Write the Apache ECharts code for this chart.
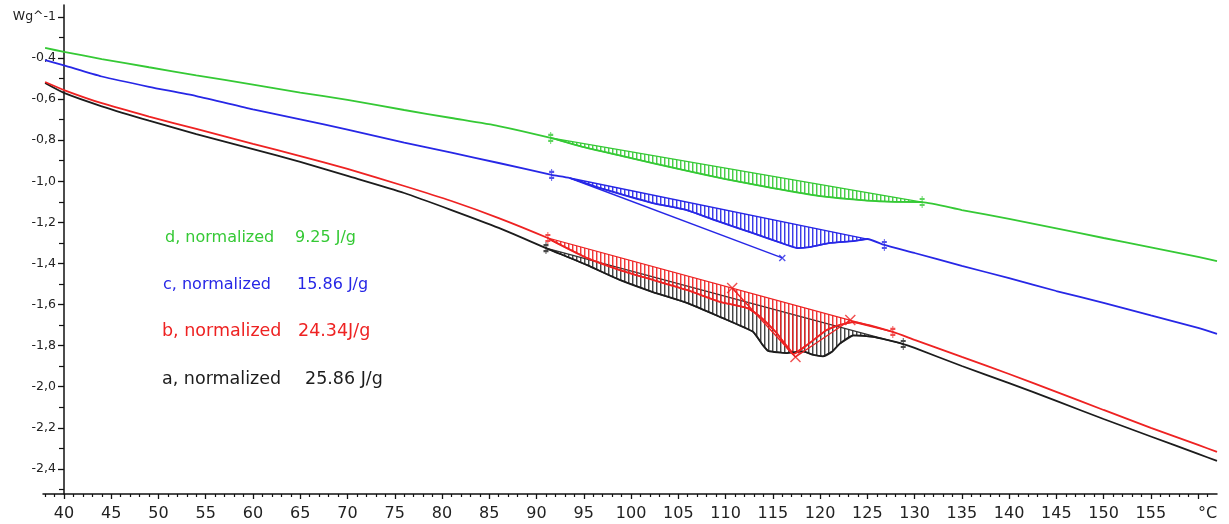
<!DOCTYPE html>
<html><head><meta charset="utf-8">
<script src="https://cdn.jsdelivr.net/npm/echarts@6/dist/echarts.min.js"></script>
<style>html,body{margin:0;padding:0;background:#fff}#c{width:1229px;height:524px}</style>
</head><body><div id="c"></div>
<script>
// ---- axis ticks ----
const xMajorTicks = [40,45,50,55,60,65,70,75,80,85,90,95,100,105,110,115,120,125,130,135,140,145,150,155,160];
const xLabelTicks = [40,45,50,55,60,65,70,75,80,85,90,95,100,105,110,115,120,125,130,135,140,145,150,155,161];
const xMinorTicks = [38,39,41,42,43,44,46,47,48,49,51,52,53,54,56,57,58,59,61,62,63,64,66,67,68,69,71,72,73,74,76,77,78,79,81,82,83,84,86,87,88,89,91,92,93,94,96,97,98,99,101,102,103,104,106,107,108,109,111,112,113,114,116,117,118,119,121,122,123,124,126,127,128,129,131,132,133,134,136,137,138,139,141,142,143,144,146,147,148,149,151,152,153,154,156,157,158,159,161];
const yMajorTicks = [-2.4,-2.2,-2.0,-1.8,-1.6,-1.4,-1.2,-1.0,-0.8,-0.6,-0.4,-0.2];
const yMinorTicks = [-2.5,-2.3,-2.1,-1.9,-1.7,-1.5,-1.3,-1.1,-0.9,-0.7,-0.5,-0.3];

// ---- curve d (green) ----
const greenT = [38,40,44,49,54,60,65,70,76,81,86,91.5,95,100,105,110,115,120,125,128,130.8,135,140,145,150,155,160,162];
const greenV = [-0.351,-0.370,-0.405,-0.445,-0.484,-0.529,-0.568,-0.604,-0.653,-0.692,-0.731,-0.789,-0.834,-0.887,-0.940,-0.989,-1.033,-1.072,-1.094,-1.100,-1.101,-1.140,-1.183,-1.229,-1.276,-1.322,-1.368,-1.388];
const greenBaseT = [91.5,130.8];
const greenBaseV = [-0.789,-1.101];

// ---- curve c (blue) ----
const blueT = [38,40,44,49,54,60,65,70,76,81,86,91.6,93.5,96.4,102.3,105.9,109.4,112.9,116.5,117.6,118.9,121.1,123.5,125.0,126.8,130,135,140,145,150,155,160,162];
const blueV = [-0.410,-0.436,-0.490,-0.540,-0.585,-0.650,-0.699,-0.748,-0.812,-0.861,-0.911,-0.969,-0.984,-1.028,-1.106,-1.140,-1.198,-1.252,-1.310,-1.325,-1.320,-1.300,-1.291,-1.281,-1.310,-1.349,-1.412,-1.471,-1.534,-1.592,-1.653,-1.714,-1.743];
const blueBaseT = [93.5,125.0];
const blueBaseV = [-0.984,-1.281];
const blueMarkT = [91.6,126.8];
const blueMarkV = [-0.969,-1.310];
const blueTanT = [93.5,116.0];
const blueTanV = [-0.984,-1.373];

// ---- curve b (red) ----
const redT = [38,40,44,49,54,60,65,70,76,81,86,91.2,91.7,95.3,98.8,102.3,105.9,109.4,112.3,113.7,115.4,117.2,118.9,120.7,122.1,123.5,127.7,130,135,140,145,150,155,160,162];
const redV = [-0.517,-0.556,-0.620,-0.685,-0.745,-0.818,-0.877,-0.940,-1.023,-1.096,-1.179,-1.276,-1.290,-1.373,-1.432,-1.480,-1.529,-1.587,-1.617,-1.660,-1.738,-1.840,-1.787,-1.724,-1.699,-1.685,-1.733,-1.772,-1.855,-1.938,-2.025,-2.113,-2.200,-2.283,-2.317];
const redBaseT = [91.2,127.7];
const redBaseV = [-1.276,-1.733];
const redTanT = [110.7,117.4,123.2];
const redTanV = [-1.519,-1.855,-1.675];

// ---- curve a (black) ----
const blackT = [38,40,44,49,54,60,65,70,76,81,86,91.0,95.3,98.8,102.3,105.9,109.4,112.9,113.9,114.5,116.5,118.2,119.3,120.3,121.3,122.1,123.5,125.6,127.1,128.8,130,135,140,145,150,155,160,162];
const blackV = [-0.522,-0.570,-0.635,-0.705,-0.770,-0.843,-0.906,-0.974,-1.057,-1.140,-1.227,-1.325,-1.407,-1.480,-1.539,-1.592,-1.660,-1.732,-1.795,-1.825,-1.836,-1.828,-1.845,-1.852,-1.828,-1.790,-1.750,-1.757,-1.772,-1.792,-1.811,-1.899,-1.982,-2.069,-2.157,-2.242,-2.327,-2.361];
const blackBaseT = [91.0,128.8];
const blackBaseV = [-1.325,-1.792];

// ---- annotations ----
const labelNames = ['d, normalized','c, normalized','b, normalized','a, normalized'];
const labelValues = ['9.25 J/g','15.86 J/g','24.34J/g','25.86 J/g'];

const C_GREEN = '#35c935', C_BLUE = '#2727e6', C_RED = '#ee2222', C_BLACK = '#1c1c1c';
const X_MIN = 37.78, X_MAX = 162.0, Y_MIN = -2.522, Y_MAX = -0.142;

function pair(T, V){ return T.map((t,i)=>[t,V[i]]); }
function hatch(color, alpha){
  const c = document.createElement('canvas'); c.width = 4; c.height = 4;
  const g = c.getContext('2d'); g.fillStyle = color;
  g.globalAlpha = alpha; g.fillRect(0,0,1,4);
  g.globalAlpha = alpha*0.45; g.fillRect(1,0,1,4);
  return {image: c, repeat: 'repeat'};
}
function lineSeries(T, V, color, z){
  return {type:'line', data: pair(T,V), showSymbol:false, smooth:0.2, z:z,
    lineStyle:{color:color, width:1.8}, itemStyle:{color:color}, silent:true};
}
function hatchSeries(T, V, baseT, color, alpha, z){
  const pts = pair(T,V).filter(p => p[0] >= baseT[0]-1e-9 && p[0] <= baseT[1]+1e-9);
  const pat = hatch(color, alpha);
  return {type:'custom', data:[pts[0]], z:z, silent:true,
    renderItem:(params, api)=>({type:'polygon', shape:{points: pts.map(p=>api.coord(p))},
      style:{fill: pat, stroke: color, lineWidth: 1.3}})};
}
function markSeries(T, V, color, symbol, size, z){
  return {type:'scatter', data: pair(T,V), symbol: symbol, symbolSize: size, z:z, silent:true,
    itemStyle:{color:'transparent', borderColor: color, borderWidth: 1.4}};
}
const BAR = 'path://M2,0L2,12M0,3L4,3M0,9L4,9';
const XM = 'path://M0,0L10,10M10,0L0,10';

const chart = echarts.init(document.getElementById('c'), null, {renderer:'canvas'});
const fam = 'DejaVu Sans';
const graphics = [];
const gx1 = [165,163,162,162], gx2 = [295,297,298,305], gy = [238,285,331,379];
const gcol = [C_GREEN, C_BLUE, C_RED, C_BLACK], gsz = [16,16,17.5,17.5];
for (let i=0;i<4;i++){
  graphics.push({type:'text', x:gx1[i], y:gy[i], style:{text:labelNames[i], fill:gcol[i], font: gsz[i]+'px "'+fam+'"', verticalAlign:'middle'}});
  graphics.push({type:'text', x:gx2[i], y:gy[i], style:{text:labelValues[i], fill:gcol[i], font: gsz[i]+'px "'+fam+'"', verticalAlign:'middle'}});
}

chart.setOption({
  animation:false,
  backgroundColor:'#fff',
  grid:{left:43, right:12, top:5, bottom:30, containLabel:false, outerBoundsMode:'none'},
  xAxis:[
    {type:'value', min:X_MIN, max:X_MAX, position:'bottom',
     axisLine:{show:true, onZero:false, lineStyle:{color:'#111', width:1.5}},
     axisTick:{show:true, customValues:xMajorTicks, length:5, lineStyle:{color:'#111', width:1.3}},
     axisLabel:{customValues:xLabelTicks, margin:12, color:'#222', fontSize:16, fontFamily:fam,
       formatter:(v)=> v>160.5 ? '°C' : String(v)},
     splitLine:{show:false}},
    {type:'value', min:X_MIN, max:X_MAX, position:'bottom',
     axisLine:{show:false, onZero:false},
     axisTick:{show:true, customValues:xMinorTicks, length:3, lineStyle:{color:'#111', width:1.2}},
     axisLabel:{show:false}, splitLine:{show:false}}
  ],
  yAxis:[
    {type:'value', min:Y_MIN, max:Y_MAX, position:'left', offset:-21,
     axisLine:{show:true, onZero:false, lineStyle:{color:'#111', width:1.5}},
     axisTick:{show:true, customValues:yMajorTicks, length:6, lineStyle:{color:'#111', width:1.3}},
     axisLabel:{customValues:yMajorTicks, margin:8, color:'#222', fontSize:12.5, fontFamily:fam,
       formatter:(v)=> Math.abs(v+0.2)<1e-6 ? 'Wg^-1' : v.toFixed(1).replace('.',',')},
     splitLine:{show:false}},
    {type:'value', min:Y_MIN, max:Y_MAX, position:'left', offset:-21,
     axisLine:{show:false, onZero:false},
     axisTick:{show:true, customValues:yMinorTicks, length:5, lineStyle:{color:'#111', width:1.2}},
     axisLabel:{show:false}, splitLine:{show:false}}
  ],
  graphic: graphics,
  series:[
    hatchSeries(blackT, blackV, blackBaseT, '#333333', 0.9, 2),
    hatchSeries(redT, redV, redBaseT, C_RED, 0.9, 3),
    hatchSeries(blueT, blueV, blueBaseT, C_BLUE, 0.9, 3),
    hatchSeries(greenT, greenV, greenBaseT, C_GREEN, 0.9, 3),
    lineSeries(blackT, blackV, C_BLACK, 4),
    lineSeries(redT, redV, C_RED, 5),
    lineSeries(blueT, blueV, C_BLUE, 5),
    lineSeries(greenT, greenV, C_GREEN, 5),
    {type:'line', data:pair(blueTanT, blueTanV), showSymbol:false, lineStyle:{color:C_BLUE, width:1.4}, z:5, silent:true},
    {type:'line', data:pair(redTanT, redTanV), showSymbol:false, lineStyle:{color:C_RED, width:1.4}, z:6, silent:true},
    markSeries(greenBaseT, greenBaseV, C_GREEN, BAR, [5,12], 7),
    markSeries(blueMarkT, blueMarkV, C_BLUE, BAR, [5,12], 7),
    markSeries(redBaseT, redBaseV, C_RED, BAR, [5,12], 7),
    markSeries(blackBaseT, blackBaseV, C_BLACK, BAR, [5,12], 7),
    markSeries(redTanT, redTanV, C_RED, XM, 10, 7),
    markSeries([blueTanT[1]], [blueTanV[1]], C_BLUE, XM, 6, 7)
  ]
});
</script>
</body></html>
